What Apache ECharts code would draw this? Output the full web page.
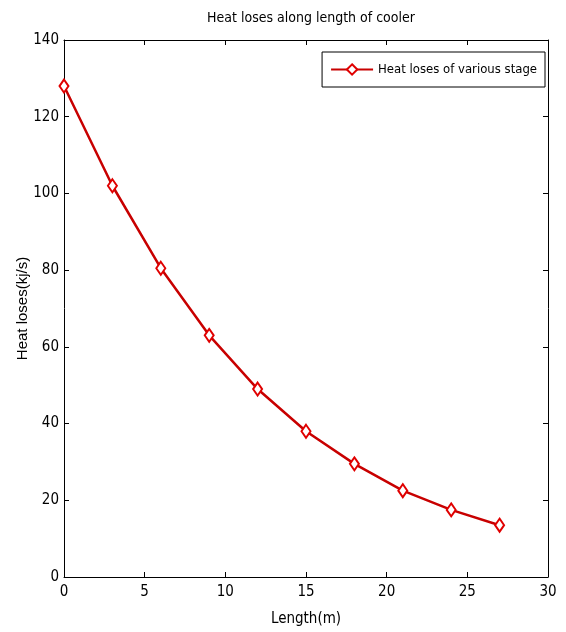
<!DOCTYPE html>
<html><head><meta charset="utf-8">
<script src="https://cdn.jsdelivr.net/npm/echarts@6/dist/echarts.min.js"></script>
<style>html,body{margin:0;padding:0;background:#fff}#c{width:566px;height:632px}</style>
</head><body><div id="c"></div>
<script>
const lengths = [0, 3, 6, 9, 12, 15, 18, 21, 24, 27];
const heatLoses = [128, 102, 80.5, 63, 49, 38, 29.5, 22.5, 17.5, 13.5];
const seriesName = 'Heat loses of various stage';
const titleText = 'Heat loses along length of cooler';
const xName = 'Length(m)';
const yName = 'Heat loses(kj/s)';

const narrow = '"Liberation Sans Narrow", "Arial Narrow", "DejaVu Sans Condensed", sans-serif';
const chart = echarts.init(document.getElementById('c'));
const axisCommon = {
  axisLine: {show: true, onZero: false, lineStyle: {color: '#000', width: 1}},
  axisTick: {show: true, inside: true, length: 5, lineStyle: {color: '#000'}},
  splitLine: {show: false}
};
chart.setOption({
  backgroundColor: '#fff',
  animation: false,
  title: {text: titleText, left: 306, textAlign: 'center', top: 6, textStyle: {fontFamily: narrow, fontSize: 14, fontWeight: 'normal', color: '#000'}},
  grid: {left: 64, right: 18, top: 40, bottom: 54},
  legend: {
    data: [seriesName], right: 21, top: 52, orient: 'horizontal',
    backgroundColor: '#fff', borderColor: '#000', borderWidth: 1, padding: [11, 8, 11, 8],
    itemWidth: 42, itemHeight: 13, itemGap: 4,
    textStyle: {fontFamily: narrow, fontSize: 13, color: '#000'}
  },
  xAxis: [
    Object.assign({type: 'value', min: 0, max: 30, interval: 5, position: 'bottom',
      name: xName, nameLocation: 'middle', nameGap: 35, nameMoveOverlap: false,
      nameTextStyle: {fontFamily: narrow, fontSize: 15, color: '#000'},
      axisLabel: {fontFamily: narrow, fontSize: 15, color: '#000', margin: 8}}, axisCommon),
    Object.assign({type: 'value', min: 0, max: 30, interval: 5, position: 'top',
      axisLabel: {show: false}}, axisCommon)
  ],
  yAxis: [
    Object.assign({type: 'value', min: 0, max: 140, interval: 20, position: 'left',
      name: yName, nameLocation: 'middle', nameGap: 34, nameMoveOverlap: false,
      nameTextStyle: {fontFamily: 'Liberation Sans, Arial, sans-serif', fontSize: 15, color: '#000'},
      axisLabel: {fontFamily: narrow, fontSize: 15, color: '#000', margin: 5}}, axisCommon),
    Object.assign({type: 'value', min: 0, max: 140, interval: 20, position: 'right',
      axisLabel: {show: false}}, axisCommon)
  ],
  series: [{
    name: seriesName, type: 'line', xAxisIndex: 0, yAxisIndex: 0,
    data: lengths.map((x, i) => [x, heatLoses[i]]),
    symbol: 'diamond', symbolSize: [9, 13], showAllSymbol: true,
    lineStyle: {color: '#c80000', width: 2.5},
    itemStyle: {color: '#fff', borderColor: '#e00000', borderWidth: 2}
  }]
});
</script></body></html>
